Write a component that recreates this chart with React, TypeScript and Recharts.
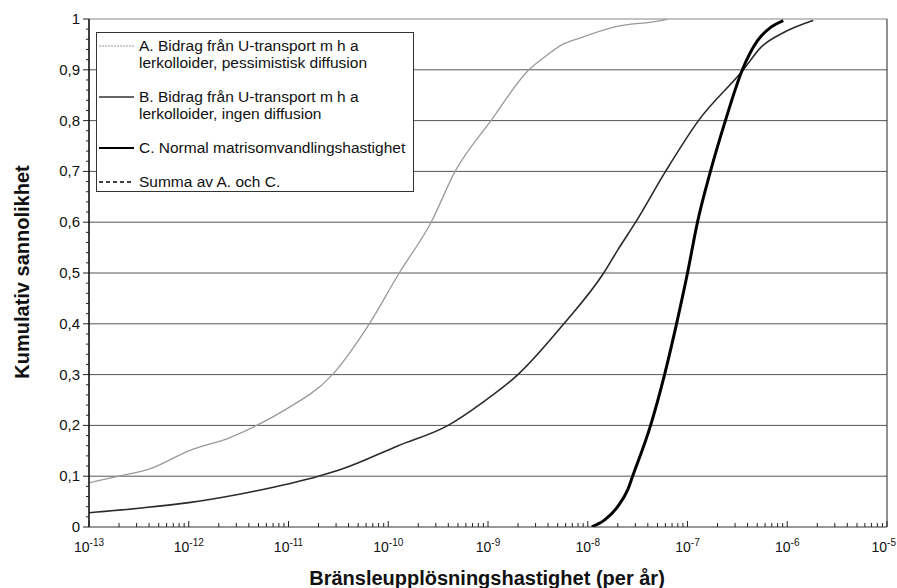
import React from 'react';
import { LineChart, Line, XAxis, YAxis, ReferenceLine, Legend } from 'recharts';

// x values are read as exponents of ten (per år), y as cumulative probability
const decadeExps = [-13, -12, -11, -10, -9, -8, -7, -6, -5];
const minorMults = [2, 3, 4, 5, 6, 7, 8, 9];
const probTicks = [0, 0.1, 0.2, 0.3, 0.4, 0.5, 0.6, 0.7, 0.8, 0.9, 1];
const probMinorSteps = [0.02, 0.04, 0.06, 0.08];
const gridLevels = [0.1, 0.2, 0.3, 0.4, 0.5, 0.6, 0.7, 0.8, 0.9, 1];

// A. Bidrag från U-transport, pessimistisk diffusion
const aLogX = [-13.0, -12.7, -12.37, -12.0, -11.6, -11.32, -11.04, -10.56, -10.19, -9.89, -9.57, -9.33, -8.97, -8.59, -8.4, -8.27, -8.07, -7.74, -7.27, -7.2];
const aProb = [0.087, 0.1, 0.116, 0.15, 0.175, 0.2, 0.23, 0.3, 0.4, 0.5, 0.6, 0.7, 0.8, 0.9, 0.93, 0.948, 0.963, 0.984, 0.997, 1.0];

// B. Bidrag från U-transport, ingen diffusion
const bLogX = [-13.0, -12.5, -12.0, -11.33, -10.7, -10.45, -9.9, -9.4, -9.07, -8.7, -8.24, -7.84, -7.7, -7.52, -7.22, -6.89, -6.44, -6.26, -6.04, -5.84, -5.74];
const bProb = [0.028, 0.037, 0.048, 0.071, 0.1, 0.115, 0.16, 0.2, 0.243, 0.3, 0.4, 0.5, 0.545, 0.6, 0.7, 0.8, 0.9, 0.945, 0.973, 0.99, 0.997];

// C. Normal matrisomvandlingshastighet
const cLogX = [-7.96, -7.83, -7.7, -7.6, -7.55, -7.37, -7.23, -7.11, -7.0, -6.9, -6.77, -6.62, -6.45, -6.3, -6.17, -6.04];
const cProb = [0, 0.014, 0.04, 0.073, 0.1, 0.2, 0.3, 0.4, 0.5, 0.6, 0.7, 0.8, 0.9, 0.957, 0.983, 0.997];

const toRows = (lx: number[], p: number[]) => lx.map((v, i) => ({ x: Math.pow(10, v), y: p[i] }));
const seriesA = toRows(aLogX, aProb);
const seriesB = toRows(bLogX, bProb);
const seriesC = toRows(cLogX, cProb);

const xTicks: number[] = [];
decadeExps.forEach((e, i) => {
  xTicks.push(Math.pow(10, e));
  if (i < decadeExps.length - 1) minorMults.forEach(m => xTicks.push(m * Math.pow(10, e)));
});

const yTicks: number[] = [];
probTicks.forEach((t, i) => {
  yTicks.push(t);
  if (i < probTicks.length - 1) probMinorSteps.forEach(s => yTicks.push(Math.round((t + s) * 100) / 100));
});

const legendItems = [
  { lines: ['A. Bidrag från U-transport m h a', 'lerkolloider, pessimistisk diffusion'], color: '#9a9a9a', width: 1.2, dash: '2 1', top: 13 },
  { lines: ['B. Bidrag från U-transport m h a', 'lerkolloider, ingen diffusion'], color: '#333', width: 1.5, dash: undefined, top: 64 },
  { lines: ['C. Normal matrisomvandlingshastighet'], color: '#000', width: 2, dash: undefined, top: 115 },
  { lines: ['Summa av A. och C.'], color: '#000', width: 1.5, dash: '4 3', top: 149 },
];

const FONT = 'Arial, "Liberation Sans", Helvetica, sans-serif';

const XTick = (props: any) => {
  const { x, y, payload } = props;
  const lg = Math.log10(payload.value);
  const isMajor = Math.abs(lg - Math.round(lg)) < 1e-6;
  if (!isMajor) {
    return <line x1={x} x2={x} y1={y} y2={y - 4} stroke="#222" strokeWidth={1} />;
  }
  const isLast = Math.round(lg) === decadeExps[decadeExps.length - 1];
  return (
    <g>
      <line x1={x} x2={x} y1={y} y2={y - 6} stroke="#222" strokeWidth={1} />
      <text x={isLast ? 896 : x} y={y + 25} textAnchor={isLast ? 'end' : 'middle'} fontFamily={FONT} fontSize={14} fill="#111">
        <tspan>10</tspan>
        <tspan dy={-6} fontSize={10}>{Math.round(lg)}</tspan>
      </text>
    </g>
  );
};

const YTick = (props: any) => {
  const { x, y, payload } = props;
  const v = payload.value;
  const isMajor = probTicks.some(t => Math.abs(t - v) < 1e-6);
  if (!isMajor) {
    return <line x1={x - 3} x2={x} y1={y} y2={y} stroke="#222" strokeWidth={1} />;
  }
  return (
    <g>
      <line x1={x - 6} x2={x} y1={y} y2={y} stroke="#222" strokeWidth={1} />
      <text x={x - 9} y={y + 5} textAnchor="end" fontFamily={FONT} fontSize={15} fill="#111">
        {String(v).replace('.', ',')}
      </text>
    </g>
  );
};

const LegendBox = () => (
  <div style={{ position: 'relative', width: 318, height: 160, border: '1px solid #333', boxSizing: 'border-box', background: '#fff', fontFamily: FONT, fontSize: 15.5, color: '#111' }}>
    {legendItems.map((item, i) => (
      <div key={i} style={{ position: 'absolute', left: 0, top: item.top - 9, width: 316 }}>
        <svg width={38} height={18} style={{ position: 'absolute', left: 1, top: 0 }}>
          <line x1={1} x2={36} y1={9} y2={9} stroke={item.color} strokeWidth={item.width} strokeDasharray={item.dash} />
        </svg>
        <div style={{ position: 'absolute', left: 42, top: 0, lineHeight: '17px', whiteSpace: 'nowrap' }}>
          {item.lines.map((l, j) => <div key={j}>{l}</div>)}
        </div>
      </div>
    ))}
  </div>
);

export default function App() {
  return (
    <div style={{ position: 'absolute', left: 0, top: 0, width: 897, height: 588, background: '#fff' }}>
      <LineChart width={897} height={588} margin={{ top: 19, right: 10, bottom: 21, left: 29 }}>
        <XAxis
          dataKey="x"
          type="number"
          scale="log"
          domain={[1e-13, 1e-5]}
          allowDataOverflow
          ticks={xTicks}
          interval={0}
          tick={<XTick />}
          tickLine={false}
          tickSize={0}
          tickMargin={0}
          height={40}
          stroke="#333"
        />
        <YAxis
          type="number"
          domain={[0, 1]}
          allowDataOverflow
          ticks={yTicks}
          interval={0}
          tick={<YTick />}
          tickLine={false}
          tickSize={0}
          tickMargin={0}
          width={60}
          stroke="#000"
          strokeWidth={1.5}
        />
        {gridLevels.map(g => (
          <ReferenceLine key={g} y={g} stroke={g === 1 ? '#888' : '#555'} strokeWidth={1} />
        ))}
        <ReferenceLine x={1e-5} stroke="#222" strokeWidth={1} />
        <Line data={seriesA} dataKey="y" type="monotone" stroke="#9a9a9a" strokeWidth={1.3} dot={false} isAnimationActive={false} />
        <Line data={seriesB} dataKey="y" type="monotone" stroke="#2a2a2a" strokeWidth={1.6} dot={false} isAnimationActive={false} />
        <Line data={seriesC} dataKey="y" type="monotone" stroke="#000" strokeWidth={3} dot={false} isAnimationActive={false} />
        <Legend
          layout="horizontal"
          verticalAlign="middle"
          align="center"
          content={() => <LegendBox />}
          wrapperStyle={{ left: 96, top: 32, width: 318, height: 160 }}
        />
        <text x={487} y={585} textAnchor="middle" fontFamily={FONT} fontSize={20} fontWeight="bold" fill="#111">
          Bränsleupplösningshastighet (per år)
        </text>
        <text x={29} y={272} textAnchor="middle" transform="rotate(-90 29 272)" fontFamily={FONT} fontSize={20} fontWeight="bold" fill="#111">
          Kumulativ sannolikhet
        </text>
      </LineChart>
    </div>
  );
}
